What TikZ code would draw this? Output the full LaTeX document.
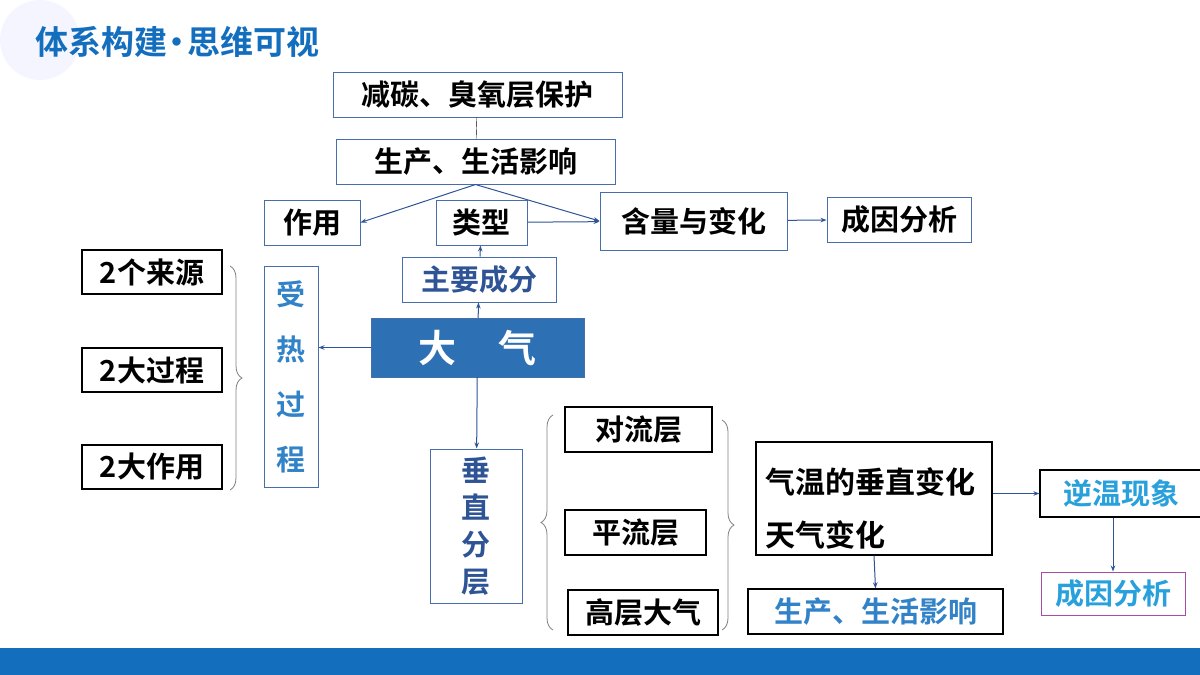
\documentclass[tikz,border=0pt]{standalone}
\usepackage{fontspec}
\setmainfont{Noto Sans CJK SC Bold}
\usetikzlibrary{arrows.meta, decorations.pathreplacing}
\definecolor{barblue}{RGB}{20,110,190}
\definecolor{darkblue}{RGB}{46,84,150}
\definecolor{midblue}{RGB}{50,130,200}
\definecolor{lightblue}{RGB}{40,160,220}
\definecolor{boxblue}{RGB}{70,110,170}
\definecolor{airblue}{RGB}{46,112,180}
\tikzset{
  box/.style={draw=boxblue, line width=1pt, inner sep=0pt, font=\fontsize{29}{32}\selectfont},
  hbox/.style={draw=black, line width=1.2pt, inner sep=0pt, font=\fontsize{29}{32}\selectfont},
  link/.style={draw=darkblue, line width=1pt, -{Stealth[length=6pt]}},
  brace/.style={draw=gray, line width=0.8pt, decorate, decoration={brace, amplitude=12pt}}
}
\begin{document}
\begin{tikzpicture}[x=1pt, y=-1pt]

% Frame and banner
\useasboundingbox (0,0) rectangle (1200,675);
\fill[blue!4] (40,40) circle (40);
\fill[barblue] (0,648) rectangle (1200,675);
\node (title) [anchor=west, text=barblue, font=\fontsize{33}{35}\selectfont] at (32,42) {体系构建\hspace{-0.2em}•\hspace{-0.2em}思维可视};

% Upper part
\node (prot) [box, minimum width=289, minimum height=45] at (477.5,94.5) {减碳、臭氧层保护};
\node (prod) [box, minimum width=279, minimum height=45] at (475.5,161.5) {生产、生活影响};
\node (role) [box, minimum width=96, minimum height=45] at (312,222.5) {作用};
\node (kind) [box, minimum width=91, minimum height=45] at (481.5,222.5) {类型};
\node (amnt) [box, minimum width=187, minimum height=58] at (693.5,221) {\raisebox{-6pt}{含量与变化}};
\node (cause) [box, minimum width=144, minimum height=45] at (899,219.5) {成因分析};
\node (comp) [box, text=darkblue, minimum width=154, minimum height=45] at (479,279.5) {主要成分};
\node (air) [fill=airblue, draw=boxblue, text=white, minimum width=213, minimum height=59, font=\fontsize{38}{40}\selectfont] at (477.5,347.5) {大\hspace{1.1em}气};

\draw (prot) -- (prod);
\draw[link] (prod.south) -- (role.east);
\draw[link] (prod.south) -- (amnt.west);
\draw[link] (kind) -- (amnt);
\draw[link] (amnt) -- (cause);
\draw[link] (comp) -- (kind);
\draw[link] (air) -- (comp);

% Heating process
\node (heat) [box, text=midblue, minimum width=54, minimum height=221, align=center, font=\fontsize{29}{55}\selectfont] at (291,376.5) {受\\热\\过\\程};
\node (src) [hbox, minimum width=140, minimum height=44] at (152,272) {2个来源};
\node (proc) [hbox, minimum width=140, minimum height=44] at (152,370) {2大过程};
\node (eff) [hbox, minimum width=140, minimum height=44] at (152,467) {2大作用};
\draw[link] (air.west) -- (air.west -| heat.east);
\draw[brace] (230,266) -- (230,490);

% Vertical layers
\node (layer) [box, text=darkblue, minimum width=92, minimum height=154, align=center, font=\fontsize{29}{37}\selectfont] at (476,526) {垂\\直\\分\\层};
\node (trop) [hbox, minimum width=147, minimum height=45] at (638.5,429.5) {对流层};
\node (strat) [hbox, minimum width=141, minimum height=45] at (635.5,532.5) {平流层};
\node (upper) [hbox, minimum width=150, minimum height=45] at (643,612.5) {高层大气};
\draw[link] (air) -- (layer);
\draw[brace] (553,630) -- (553,415);
\draw[brace] (722,420) -- (722,630);

\node (temp) [hbox, minimum width=236, minimum height=113] at (874,498.5) {};
\node (tline) [anchor=west, font=\fontsize{30}{32}\selectfont] at (762,482) {气温的垂直变化};
\node (wline) [anchor=west, font=\fontsize{30}{32}\selectfont] at (762,535) {天气变化};
\node (inv) [hbox, text=lightblue, minimum width=162, minimum height=47] at (1121,493.5) {逆温现象};
\node (why) [draw=violet!70, line width=1pt, inner sep=0pt, text=lightblue, minimum width=144, minimum height=43, font=\fontsize{29}{32}\selectfont] at (1113,593.5) {成因分析};
\node (life) [hbox, text=midblue, minimum width=255, minimum height=45] at (875.5,611.5) {生产、生活影响};
\draw[link] (temp.east |- inv.west) -- (inv.west);
\draw[link] (inv.south -| why.north) -- (why.north);
\draw[link] (temp.south) -- (life.north);

\end{tikzpicture}
\end{document}
